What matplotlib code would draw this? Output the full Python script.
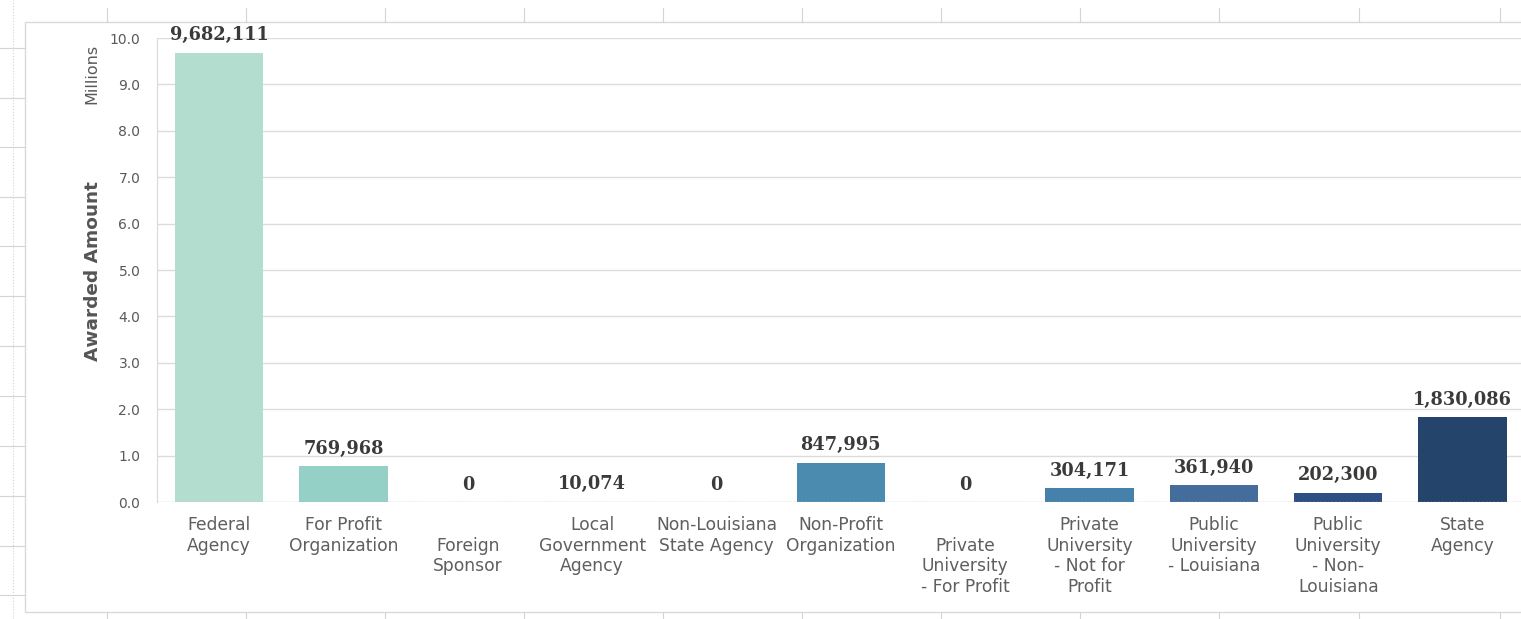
import matplotlib
matplotlib.use('Agg')
import matplotlib.pyplot as plt
from matplotlib.lines import Line2D
from matplotlib.patches import Rectangle

plt.rcParams['font.family'] = ['DejaVu Sans']

# 数据
categories = ['Federal\nAgency', 'For Profit\nOrganization', '\nForeign\nSponsor',
              'Local\nGovernment\nAgency', 'Non-Louisiana\nState Agency',
              'Non-Profit\nOrganization', '\nPrivate\nUniversity\n- For Profit',
              'Private\nUniversity\n- Not for\nProfit', 'Public\nUniversity\n- Louisiana',
              'Public\nUniversity\n- Non-\nLouisiana', 'State\nAgency']
amounts = [9682111, 769968, 0, 10074, 0, 847995, 0, 304171, 361940, 202300, 1830086]
colors = ['#b3ddcf', '#94d0c5', '#8fcac8', '#8cc6c8', '#5e9dbb', '#4b8bb0',
          '#4786ad', '#4581aa', '#456d9b', '#2d5084', '#24446c']
yticks = [0, 1, 2, 3, 4, 5, 6, 7, 8, 9, 10]

W, H = 1521, 619
fig = plt.figure(figsize=(W / 100, H / 100), dpi=100)

# 表格背景线（Excel 单元格）
grid_c = '#d4d4d4'
fig.add_artist(Line2D([13 / W, 13 / W], [0, 1], color=grid_c, lw=0.8, ls=':'))
for y in [48, 97.5, 147, 197, 246, 296, 346, 396, 446, 496, 546, 595]:
    fig.add_artist(Line2D([0, 25 / W], [1 - y / H, 1 - y / H], color=grid_c, lw=0.8))
for x in [107, 246, 385, 524, 663, 802, 941, 1080, 1219, 1359, 1500]:
    fig.add_artist(Line2D([x / W, x / W], [1 - 8 / H, 1 - 22 / H], color=grid_c, lw=0.8))
    fig.add_artist(Line2D([x / W, x / W], [0, 1 - 613 / H], color=grid_c, lw=0.8))
# 图表区边框
fig.add_artist(Rectangle((25 / W, 1 - 612 / H), (W + 10 - 25) / W, (612 - 22) / H,
                         fill=False, edgecolor='#d9d9d9', lw=1))

ax = fig.add_axes([157 / W, (H - 502) / H, (W - 157) / W, 464 / H])
x = list(range(len(categories)))
vals = [a / 1e6 for a in amounts]
bars = ax.bar(x, vals, width=0.71, color=colors, zorder=3)

for i, a in enumerate(amounts):
    ax.annotate(f'{a:,}', (i, vals[i]), xytext=(0, 6), textcoords='offset points',
                ha='center', va='bottom', fontsize=12.8, fontweight='bold',
                family='DejaVu Serif', color='#3a3a3a')

ax.set_xlim(-0.5, 10.47)
ax.set_ylim(0, 10)
ax.set_yticks(yticks)
ax.set_yticklabels([f'{v:.1f}' for v in yticks])
ax.set_xticks(x)
ax.set_xticklabels(categories, fontsize=12.3, color='#5f5f5f', linespacing=1.2, va='top')
ax.tick_params(axis='y', labelsize=10, colors='#595959', length=0, pad=12)
ax.tick_params(axis='x', length=0, pad=10)
ax.grid(axis='y', color='#dcdcdc', lw=1, zorder=0)
for s in ['top', 'right', 'bottom']:
    ax.spines[s].set_visible(False)
ax.spines['left'].set_color('#d9d9d9')
ax.axhline(0, color='#c8c8c8', lw=1, ls=':', zorder=4)

fig.text(93 / W, 1 - 271 / H, 'Awarded Amount', rotation=90, fontsize=13.3,
         fontweight='bold', color='#555555', ha='center', va='center')
fig.text(92 / W, 1 - 74 / H, 'Millions', rotation=90, fontsize=11.5, color='#595959',
         ha='center', va='center')

plt.savefig('out.png', dpi=100)
